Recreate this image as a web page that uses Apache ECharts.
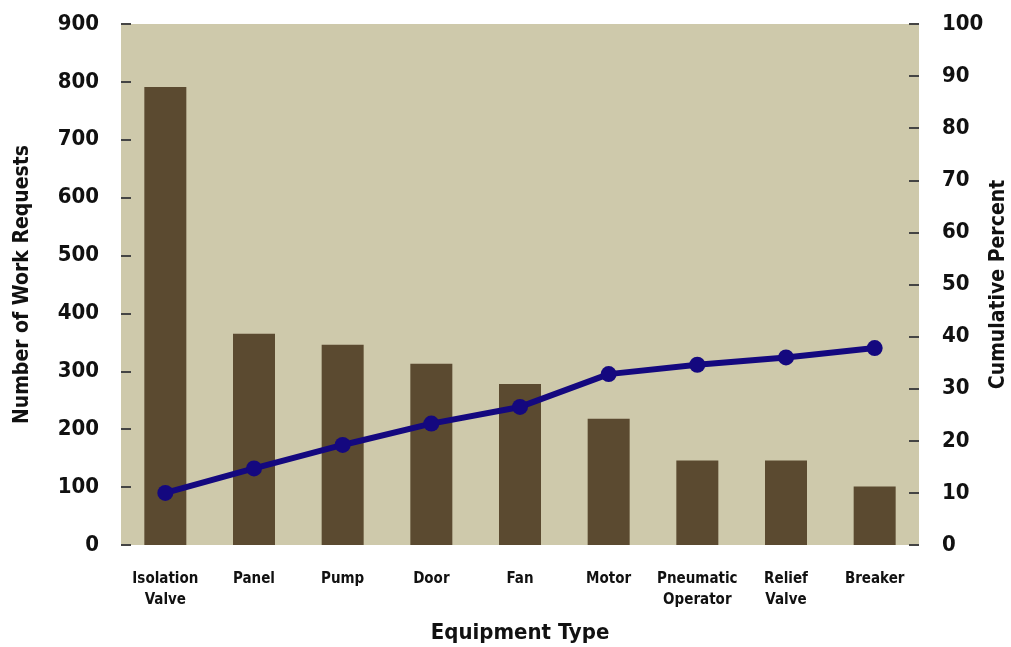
<!DOCTYPE html>
<html>
<head>
<meta charset="utf-8">
<script src="https://cdn.jsdelivr.net/npm/echarts@6/dist/echarts.min.js"></script>
<style>
  html, body { margin: 0; padding: 0; background: #fff; }
  #box { width: 1011px; height: 647px; }
</style>
</head>
<body>
<div id="box"></div>
<script>
// data
const categories = ['Isolation\nValve', 'Panel', 'Pump', 'Door', 'Fan', 'Motor', 'Pneumatic\nOperator', 'Relief\nValve', 'Breaker']
const requests = [791, 365, 346, 313, 278, 218, 146, 146, 101]
const cumulative = [10, 14.7, 19.2, 23.3, 26.5, 32.8, 34.6, 36, 37.8]

const font = '"Liberation Sans Narrow", "DejaVu Sans Condensed", sans-serif'

const myEcharts = echarts.init(document.getElementById('box'))
const options = {
  animation: false,
  textStyle: { fontFamily: font },
  grid: {
    left: 121, right: 92, top: 24, bottom: 102,
    outerBoundsMode: 'none',
    containLabel: false,
    show: true,
    backgroundColor: '#cec9ab',
    borderWidth: 0
  },
  xAxis: {
    type: 'category',
    data: categories,
    name: 'Equipment Type',
    nameLocation: 'middle',
    nameGap: 77,
    nameTextStyle: { fontSize: 22, fontWeight: 'bold', color: '#111', fontFamily: font },
    axisLine: { show: false },
    axisTick: { show: false },
    axisLabel: {
      interval: 0, margin: 24, fontSize: 15, fontWeight: 'bold', color: '#111',
      lineHeight: 21, fontFamily: font
    }
  },
  yAxis: [
    {
      type: 'value', min: 0, max: 900, interval: 100,
      name: 'Number of Work Requests',
      nameLocation: 'middle',
      nameGap: 88,
      nameTextStyle: { fontSize: 21, fontWeight: 'bold', color: '#111', fontFamily: font },
      axisLine: { show: false },
      axisTick: { show: true, inside: true, length: 10, lineStyle: { color: '#444', width: 2 } },
      splitLine: { show: false },
      axisLabel: { margin: 22, fontSize: 22, fontWeight: 'bold', color: '#111', fontFamily: font }
    },
    {
      type: 'value', min: 0, max: 100, interval: 10,
      name: 'Cumulative Percent',
      nameLocation: 'middle',
      nameGap: 69,
      nameMoveOverlap: false,
      nameTextStyle: { fontSize: 21, fontWeight: 'bold', color: '#111', fontFamily: font },
      axisLine: { show: false },
      axisTick: { show: true, inside: true, length: 10, lineStyle: { color: '#444', width: 2 } },
      splitLine: { show: false },
      axisLabel: { margin: 23, fontSize: 22, fontWeight: 'bold', color: '#111', fontFamily: font }
    }
  ],
  series: [
    {
      type: 'bar',
      data: requests,
      barWidth: 42,
      itemStyle: { color: '#5b4a30' }
    },
    {
      type: 'line',
      yAxisIndex: 1,
      data: cumulative,
      symbol: 'circle',
      symbolSize: 16,
      lineStyle: { color: '#14087f', width: 6 },
      itemStyle: { color: '#14087f' }
    }
  ]
}
myEcharts.setOption(options)
</script>
</body>
</html>
